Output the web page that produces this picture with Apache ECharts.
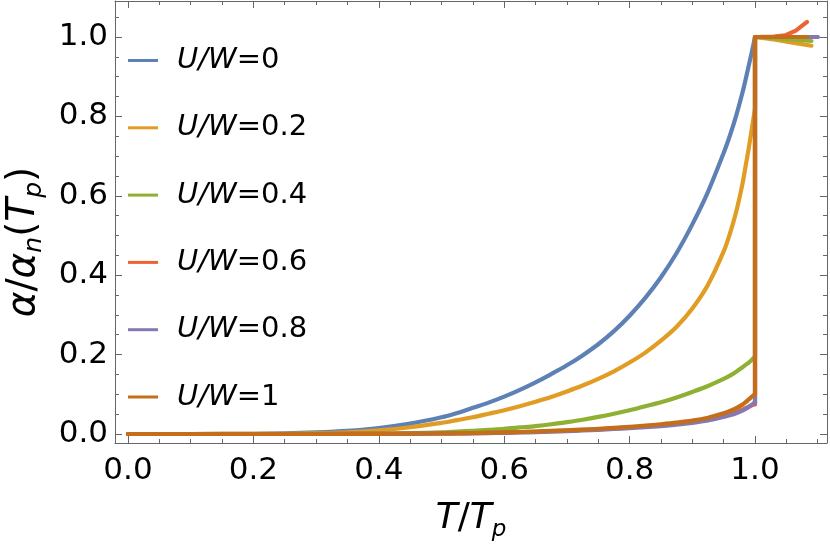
<!DOCTYPE html>
<html><head><meta charset="utf-8">
<script src="https://cdn.jsdelivr.net/npm/echarts@6/dist/echarts.min.js"></script>
<style>html,body{margin:0;padding:0;background:#fff}#c{width:830px;height:544px}</style>
</head><body><div id="c"></div>
<script>
// T/Tp grid below the transition
const tBelow = [0, 0.1, 0.2, 0.25, 0.3, 0.35, 0.4, 0.45, 0.5, 0.525, 0.55, 0.575, 0.6, 0.625, 0.65, 0.675, 0.7, 0.725, 0.75, 0.775, 0.8, 0.825, 0.85, 0.875, 0.9, 0.925, 0.95, 0.96, 0.97, 0.98, 0.985, 0.99, 0.995, 1.0];
const vU0  = [0, 0, 0.0005, 0.0015, 0.004, 0.008, 0.015, 0.026, 0.042, 0.053, 0.066, 0.079, 0.094, 0.111, 0.13, 0.151, 0.173, 0.198, 0.226, 0.259, 0.298, 0.343, 0.395, 0.456, 0.528, 0.61, 0.708, 0.752, 0.802, 0.86, 0.893, 0.928, 0.963, 1.0];
const vU02 = [0, 0, 0.0002, 0.0005, 0.0015, 0.004, 0.009, 0.017, 0.028, 0.035, 0.042, 0.051, 0.06, 0.07, 0.081, 0.093, 0.107, 0.122, 0.139, 0.158, 0.18, 0.205, 0.235, 0.27, 0.316, 0.376, 0.46, 0.505, 0.56, 0.63, 0.675, 0.72, 0.77, 0.82];
const vU04 = [0, 0, 0, 0, 0.0002, 0.0005, 0.001, 0.002, 0.004, 0.006, 0.008, 0.0105, 0.013, 0.0165, 0.02, 0.0245, 0.03, 0.036, 0.043, 0.051, 0.06, 0.07, 0.08, 0.092, 0.106, 0.121, 0.139, 0.147, 0.157, 0.168, 0.174, 0.18, 0.187, 0.195];
const vU06 = [0, 0, 0, 0, 0, 0.0001, 0.0003, 0.0007, 0.0012, 0.0016, 0.002, 0.0027, 0.0035, 0.0045, 0.0057, 0.007, 0.0085, 0.0102, 0.012, 0.0142, 0.0167, 0.0195, 0.0225, 0.026, 0.031, 0.037, 0.046, 0.05, 0.055, 0.061, 0.065, 0.069, 0.072, 0.075];
const vU08 = [0, 0, 0, 0, 0, 0.0001, 0.0002, 0.0005, 0.001, 0.0013, 0.0017, 0.0023, 0.003, 0.0038, 0.0048, 0.006, 0.0073, 0.0088, 0.0105, 0.0125, 0.0148, 0.0173, 0.02, 0.0235, 0.028, 0.034, 0.043, 0.047, 0.052, 0.059, 0.063, 0.068, 0.074, 0.08];
const vU1  = [0, 0, 0, 0, 0, 0.0002, 0.0004, 0.0009, 0.0015, 0.002, 0.0025, 0.0032, 0.004, 0.005, 0.0063, 0.0077, 0.0093, 0.011, 0.013, 0.0155, 0.018, 0.021, 0.0245, 0.0285, 0.0335, 0.041, 0.052, 0.058, 0.065, 0.074, 0.08, 0.087, 0.094, 0.10];
// above the transition (after the jump)
const tAboveU0  = [1.0, 1.1];                       const vAboveU0  = [1.0, 1.0];
const tAboveU02 = [1.0, 1.03, 1.06, 1.09];          const vAboveU02 = [1.0, 0.994, 0.986, 0.978];
const tAboveU04 = [1.0, 1.09];                      const vAboveU04 = [1.0, 0.99];
const tAboveU06 = [1.0, 1.03, 1.048, 1.065, 1.083]; const vAboveU06 = [1.0, 1.001, 1.004, 1.016, 1.038];
const tAboveU08 = [1.0, 1.1];                       const vAboveU08 = [1.0, 1.0];
const tAboveU1  = [1.0, 1.083];                     const vAboveU1  = [1.0, 1.0];

const seriesNames = ['U/W=0', 'U/W=0.2', 'U/W=0.4', 'U/W=0.6', 'U/W=0.8', 'U/W=1'];
const colors = ['#5E81B5', '#E19C24', '#8FB032', '#EB6235', '#8778B3', '#C56E1A'];
const below = [vU0, vU02, vU04, vU06, vU08, vU1];
const aboveT = [tAboveU0, tAboveU02, tAboveU04, tAboveU06, tAboveU08, tAboveU1];
const aboveV = [vAboveU0, vAboveU02, vAboveU04, vAboveU06, vAboveU08, vAboveU1];

const xMajor = [0, 0.2, 0.4, 0.6, 0.8, 1.0];
const xMinor = [0.05, 0.1, 0.15, 0.25, 0.3, 0.35, 0.45, 0.5, 0.55, 0.65, 0.7, 0.75, 0.85, 0.9, 0.95, 1.05, 1.1];
const yMajor = [0, 0.2, 0.4, 0.6, 0.8, 1.0];
const yMinor = [0.05, 0.1, 0.15, 0.25, 0.3, 0.35, 0.45, 0.5, 0.55, 0.65, 0.7, 0.75, 0.85, 0.9, 0.95, 1.05];

const XMIN = -0.0207, XMAX = 1.1148, YMIN = -0.0227, YMAX = 1.0907;
const FONT = 'DejaVu Sans';
const frameColor = '#666';

function mkAxis(kind, pos, ticks, len, showLine, showLabel, extra) {
  const a = {
    type: 'value', position: pos,
    min: kind === 'x' ? XMIN : YMIN, max: kind === 'x' ? XMAX : YMAX,
    axisLine: { show: showLine, onZero: false, lineStyle: { color: frameColor, width: 1 } },
    axisTick: { show: true, inside: true, length: len, customValues: ticks, lineStyle: { color: frameColor, width: 1 } },
    axisLabel: showLabel ? {
      show: true, customValues: ticks, fontFamily: FONT, fontSize: 31, color: '#000',
      margin: kind === 'x' ? 12 : 7, formatter: v => v.toFixed(1)
    } : { show: false },
    splitLine: { show: false }
  };
  return Object.assign(a, extra || {});
}

const nameRich = (big, small) => ({
  a: { fontFamily: FONT, fontStyle: 'italic', fontSize: big, color: '#000', lineHeight: 46, verticalAlign: 'middle' },
  b: { fontFamily: FONT, fontSize: big, color: '#000', lineHeight: 46, verticalAlign: 'middle' },
  s: { fontFamily: FONT, fontStyle: 'italic', fontSize: small, color: '#000', lineHeight: 46, verticalAlign: 'bottom' }
});

const xAxes = [
  mkAxis('x', 'bottom', xMajor, 7, true, true, {
    name: '{a|T}{b|/}{a|T}{s|p}', nameLocation: 'middle', nameGap: 53,
    nameTextStyle: { rich: nameRich(36, 23) }
  }),
  mkAxis('x', 'bottom', xMinor, 4, false, false),
  mkAxis('x', 'top', xMajor, 7, true, false),
  mkAxis('x', 'top', xMinor, 4, false, false)
];
const yAxes = [
  mkAxis('y', 'left', yMajor, 7, true, true, {
    name: '{a|α}{b|/}{a|α}{s|n}{b|(}{a|T}{s|p}{b|)}', nameLocation: 'middle', nameGap: 68,
    nameTextStyle: { padding: [0, 40, 0, 0], rich: nameRich(39, 25) }
  }),
  mkAxis('y', 'left', yMinor, 4, false, false),
  mkAxis('y', 'right', yMajor, 7, true, false),
  mkAxis('y', 'right', yMinor, 4, false, false)
];

const series = [];
seriesNames.forEach((name, i) => {
  const common = {
    name, type: 'line', showSymbol: false, symbol: 'none',
    xAxisIndex: 0, yAxisIndex: 0, clip: true,
    lineStyle: { color: colors[i], width: 4.2, join: 'round', cap: 'round' },
    itemStyle: { color: colors[i] },
    animation: false, z: 2 + i
  };
  // smooth curve below the transition
  series.push(Object.assign({}, common, {
    data: tBelow.map((t, k) => [t, below[i][k]]),
    smooth: 0.3
  }));
  // jump at T = Tp and the part above
  const jump = [[tBelow[tBelow.length - 1], below[i][below[i].length - 1]]];
  aboveT[i].forEach((t, k) => jump.push([t, aboveV[i][k]]));
  series.push(Object.assign({}, common, { data: jump, smooth: false }));
});

const chart = echarts.init(document.getElementById('c'), null, { renderer: 'canvas' });
chart.setOption({
  backgroundColor: '#fff',
  animation: false,
  grid: { left: 115, right: 3, top: 1, bottom: 101, containLabel: false, outerBoundsMode: 'none' },
  xAxis: xAxes,
  yAxis: yAxes,
  legend: {
    orient: 'vertical', left: 128, top: 46, padding: 0,
    icon: 'rect', itemWidth: 30, itemHeight: 3, itemGap: 38.3,
    data: seriesNames.map((n, i) => ({ name: n, itemStyle: { color: colors[i] } })),
    formatter: name => { const p = name.split('='); return '{i|' + p[0] + '}{n|=' + p[1] + '}'; },
    textStyle: {
      padding: [0, 0, 0, 14],
      rich: {
        i: { fontFamily: FONT, fontStyle: 'italic', fontSize: 29, color: '#000', lineHeight: 30 },
        n: { fontFamily: FONT, fontSize: 29, color: '#000', lineHeight: 30 }
      }
    },
    selectedMode: false
  },
  series
});
</script>
</body></html>
